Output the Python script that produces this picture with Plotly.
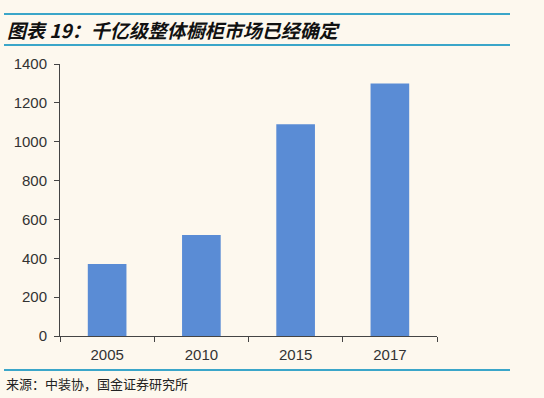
import plotly.graph_objects as go

categories = ["2005", "2010", "2015", "2017"]
values = [370, 520, 1090, 1300]
y_ticks = [0, 200, 400, 600, 800, 1000, 1200, 1400]

title_text = "图表 19：千亿级整体橱柜市场已经确定"
source_text = "来源：中装协，国金证券研究所"

W, H = 544, 398
L, R, T, B = 60, 107, 64, 62
pw, ph = W - L - R, H - T - B

def px(x):
    return (x - L) / pw

def py(y):
    return (H - B - y) / ph

bg = "#fdf8ee"
line_col = "#3ba6c9"

fig = go.Figure(go.Bar(x=categories, y=values, marker_color="#5a8cd5",
                       marker_line_width=0, width=0.41))

fig.update_layout(
    width=W, height=H, margin=dict(l=L, r=R, t=T, b=B),
    paper_bgcolor=bg, plot_bgcolor=bg, showlegend=False,
    font=dict(family="Liberation Sans, Arial, sans-serif", size=15, color="#333333"),
    xaxis=dict(showline=True, linecolor="#444444", linewidth=1, ticks="outside",
               tickson="boundaries", ticklen=5, tickcolor="#444444",
               ticklabelstandoff=5,
               showgrid=False, zeroline=False, fixedrange=True),
    yaxis=dict(range=[0, 1400], tickvals=y_ticks, showline=True, linecolor="#444444",
               linewidth=1, ticks="outside", ticklen=5, tickcolor="#444444",
               ticklabelstandoff=4,
               showgrid=False, zeroline=False, fixedrange=True),
)

for yy in (14, 45, 370):
    fig.add_shape(type="line", xref="paper", yref="paper",
                  x0=px(4), x1=px(510), y0=py(yy), y1=py(yy),
                  line=dict(color=line_col, width=2))

fig.add_annotation(xref="paper", yref="paper", x=px(5), y=py(29),
                   xanchor="left", yanchor="middle", showarrow=False,
                   text="<b><i>" + title_text + "</i></b>",
                   font=dict(family="Noto Sans CJK SC", size=19, color="#111111"))
fig.add_annotation(xref="paper", yref="paper", x=px(4), y=py(383),
                   xanchor="left", yanchor="middle", showarrow=False,
                   text=source_text,
                   font=dict(family="Noto Sans CJK SC", size=13, color="#222222"))

fig.write_html("out.html", config={"displayModeBar": False},
               post_script="document.body.style.margin='0';document.body.style.background='%s';" % bg)
